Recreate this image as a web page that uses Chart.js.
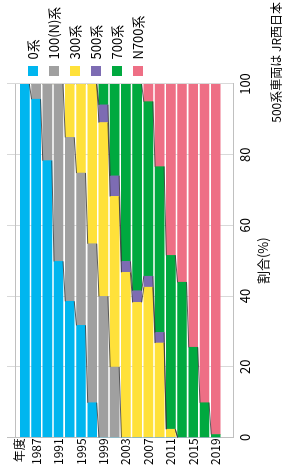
<!DOCTYPE html>
<html>
<head>
<meta charset="utf-8">
<script src="https://cdn.jsdelivr.net/npm/chart.js@4"></script>
<style>
  html, body { margin: 0; padding: 0; background: #fff; overflow: hidden; }
  /* chart is drawn landscape and turned a quarter left */
  #wrap {
    position: absolute; left: 0; top: 0;
    width: 472px; height: 284px;
    transform-origin: 0 0;
    transform: translate(0, 472px) rotate(-90deg);
  }
</style>
</head>
<body>
<div id="wrap"><canvas id="myChart" width="472" height="284"></canvas></div>
<script>
// fiscal years (one bar every two years)
const years = [1985, 1987, 1989, 1991, 1993, 1995, 1997, 1999, 2001, 2003, 2005, 2007, 2009, 2011, 2013, 2015, 2017, 2019];
const yearTicks = [1987, 1991, 1995, 1999, 2003, 2007, 2011, 2015, 2019];

// share of cars (%)
const series0 = [100, 95.7, 78.3, 49.8, 38.5, 31.7, 9.8, 0, 0, 0, 0, 0, 0, 0, 0, 0, 0, 0];
const series100 = [0, 4.3, 21.7, 50.2, 46.4, 43.1, 45.0, 39.9, 19.9, 0, 0, 0, 0, 0, 0, 0, 0, 0];
const series300 = [0, 0, 0, 0, 15.1, 25.2, 45.2, 49.2, 48.3, 46.7, 38.2, 42.5, 26.7, 2.3, 0, 0, 0, 0];
const series500 = [0, 0, 0, 0, 0, 0, 0, 5.0, 5.8, 3.1, 3.3, 3.1, 3.0, 0, 0, 0, 0, 0];
const series700 = [0, 0, 0, 0, 0, 0, 0, 5.9, 26.0, 50.2, 58.5, 49.4, 46.9, 49.2, 43.9, 25.5, 9.8, 0.8];
const seriesN700 = [0, 0, 0, 0, 0, 0, 0, 0, 0, 0, 0, 5.0, 23.4, 48.5, 56.1, 74.5, 90.2, 99.2];

const seriesNames = ['0系', '100(N)系', '300系', '500系', '700系', 'N700系'];
const colors = ['#00b6ef', '#a0a0a0', '#ffe13a', '#7d6cb3', '#00a93f', '#ee6f85'];

const yMin = 1983.5, yMax = 2020.4;
const yTitlePos = yMin + 0.5;

Chart.defaults.font.family = '"Noto Sans CJK JP", "Noto Sans", sans-serif';
Chart.defaults.color = '#000';

// thin lines joining the segment edges of neighbouring bars
const seriesLines = {
  id: 'seriesLines',
  afterDatasetsDraw(chart) {
    const c = chart.ctx;
    const area = chart.chartArea;
    const n = chart.data.datasets.length;
    c.save();
    c.strokeStyle = '#333';
    c.lineWidth = 0.8;
    for (let d = 0; d < n - 1; d++) {
      const bars = chart.getDatasetMeta(d).data;
      for (let i = 0; i < bars.length - 1; i++) {
        const a = bars[i], b = bars[i + 1];
        if (Math.abs(a.x - b.x) < 0.5 &&
            (Math.abs(a.x - area.left) < 0.5 || Math.abs(a.x - area.right) < 0.5)) continue;
        c.beginPath();
        c.moveTo(a.x, a.y + a.height / 2);
        c.lineTo(b.x, b.y - b.height / 2);
        c.stroke();
      }
    }
    c.restore();
  }
};

const allSeries = [series0, series100, series300, series500, series700, seriesN700];

new Chart(document.getElementById('myChart'), {
  type: 'bar',
  data: {
    labels: years,
    datasets: allSeries.map((s, i) => ({
      label: seriesNames[i],
      data: s,
      backgroundColor: colors[i],
      borderWidth: 0,
      barThickness: 9
    }))
  },
  options: {
    indexAxis: 'y',
    responsive: false,
    animation: false,
    layout: { padding: { top: 7, right: 2, bottom: 0, left: 6 } },
    scales: {
      x: {
        stacked: true,
        min: 0,
        max: 100,
        ticks: { stepSize: 20, padding: 4, font: { size: 13 } },
        grid: { color: '#d9d9d9', drawTicks: false },
        border: { display: true, color: '#c0c0c0' },
        title: { display: true, text: '割合(%)', font: { size: 13, lineHeight: 1 }, padding: { top: 0, bottom: 0 } }
      },
      y: {
        type: 'linear',
        stacked: true,
        reverse: true,
        min: yMin,
        max: yMax,
        afterBuildTicks: axis => {
          axis.ticks = [yMin, yTitlePos].concat(yearTicks, [yMax]).map(v => ({ value: v }));
        },
        ticks: {
          padding: 1,
          font: { size: 12, lineHeight: 1 },
          callback: v => v === yTitlePos ? '年度' : (v === yMin || v === yMax ? '' : String(v))
        },
        grid: {
          drawTicks: false,
          color: c => (c.tick && (c.tick.value === yMin || c.tick.value === yMax)) ? '#c0c0c0' : 'rgba(0,0,0,0)'
        },
        border: { display: true, color: '#c0c0c0' }
      }
    },
    plugins: {
      legend: {
        position: 'right',
        align: 'start',
        maxWidth: 82,
        title: { display: true, text: '', padding: { top: 0, bottom: 0 }, font: { size: 11.5, lineHeight: 1 } },
        labels: { boxWidth: 10, boxHeight: 10, padding: 8, font: { size: 13 } }
      },
      title: {
        display: true,
        text: '500系車両は JR西日本',
        position: 'bottom',
        align: 'end',
        font: { size: 12, weight: 'normal' },
        padding: { top: 0, bottom: 0 }
      },
      tooltip: { enabled: false }
    }
  },
  plugins: [seriesLines]
});
</script>
</body>
</html>
